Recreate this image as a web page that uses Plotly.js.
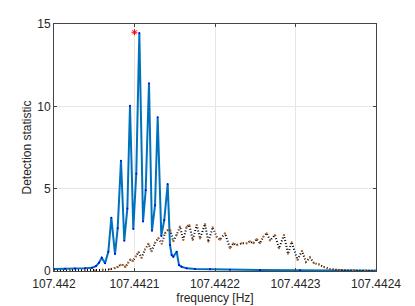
<!DOCTYPE html>
<html>
<head>
<meta charset="utf-8">
<script src="https://cdn.plot.ly/plotly-3.0.1.min.js"></script>
<style>html,body{margin:0;padding:0;background:#fff;}#chart{width:415px;height:306px;}</style>
</head>
<body>
<div id="chart"></div>
<script>
// Blue series: detection statistic
const blueFreq = [107.4420000,107.4420137,107.4420261,107.4420385,107.4420472,107.4420522,107.4420559,107.4420593,107.4420634,107.4420675,107.4420712,107.4420758,107.4420791,107.4420832,107.4420873,107.4420911,107.4420944,107.4420985,107.4421022,107.4421060,107.4421106,107.4421139,107.4421180,107.4421217,107.4421255,107.4421288,107.4421333,107.4421370,107.4421412,107.4421441,107.4421462,107.4421482,107.4421524,107.4421553,107.4421586,107.4421648,107.4421752,107.4421938,107.4422186,107.4422559,107.4423056,107.4423553,107.4424000];
const blueVal = [0.12,0.13,0.15,0.17,0.2,0.3,0.5,0.8,0.47,1.17,3.24,1.03,2.59,6.7,1.84,3.8,10.04,2.55,5.9,14.45,3.0,4.9,11.4,2.45,4.0,9.33,2.13,3.1,5.28,1.58,0.97,0.87,1.17,0.36,0.26,0.16,0.12,0.1,0.08,0.06,0.05,0.03,0.02];

// Black dotted series
const blackFreq = [107.4420000,107.4420199,107.4420385,107.4420509,107.4420609,107.4420696,107.4420758,107.4420795,107.4420826,107.4420857,107.4420888,107.4420919,107.4420950,107.4420981,107.4421019,107.4421050,107.4421087,107.4421130,107.4421174,107.4421211,107.4421255,107.4421296,107.4421338,107.4421379,107.4421416,107.4421447,107.4421482,107.4421524,107.4421565,107.4421606,107.4421648,107.4421681,107.4421723,107.4421773,107.4421814,107.4421876,107.4421917,107.4421971,107.4422021,107.4422062,107.4422124,107.4422186,107.4422227,107.4422270,107.4422332,107.4422394,107.4422435,107.4422476,107.4422518,107.4422559,107.4422600,107.4422642,107.4422683,107.4422745,107.4422795,107.4422857,107.4422907,107.4422953,107.4423025,107.4423081,107.4423130,107.4423180,107.4423230,107.4423292,107.4423354,107.4423429,107.4423553,107.4423714,107.4423863,107.4424000];
const blackVal = [0.02,0.03,0.04,0.05,0.07,0.1,0.17,0.25,0.38,0.36,0.25,0.5,0.7,0.6,0.9,1.15,0.8,1.3,1.65,1.2,1.7,2.0,1.65,2.3,2.5,2.45,1.8,2.2,2.7,1.88,2.69,2.8,1.88,2.8,1.98,2.85,1.78,2.65,2.08,1.9,2.29,1.38,1.68,1.58,1.68,1.68,1.8,1.68,1.95,1.68,2.08,2.3,1.85,2.19,1.38,2.19,1.05,1.75,0.67,1.22,0.56,0.82,0.47,0.4,0.24,0.12,0.06,0.03,0.02,0.01];

// Marker (red asterisk)
const starFreq = [107.4421];
const starVal = [14.5];

const xTickVals = [107.442,107.4421,107.4422,107.4423,107.4424];
const xTickText = ["107.442","107.4421","107.4422","107.4423","107.4424"];
const yTickVals = [0,5,10,15];

const font = {family: "Liberation Sans, Arial, Helvetica, sans-serif", size: 12, color: "#262626"};

const traces = [
  {x: blueFreq, y: blueVal, type: "scatter", mode: "lines+markers",
   line: {color: "#0072BD", width: 2}, marker: {color: "#0000ff", size: 2}, hoverinfo: "none"},
  {x: blackFreq, y: blackVal, type: "scatter", mode: "lines+markers",
   line: {color: "#000000", width: 2, dash: "1px,2px"}, marker: {color: "#c8641e", size: 2}, hoverinfo: "none"},
  {x: starFreq, y: starVal, type: "scatter", mode: "markers",
   marker: {symbol: "asterisk-open", color: "#ff0000", size: 5, line: {color: "#ff3030", width: 1}}, hoverinfo: "none"}
];

const layout = {
  width: 415, height: 306,
  margin: {l: 54, r: 39, t: 24, b: 35},
  paper_bgcolor: "#ffffff", plot_bgcolor: "#ffffff",
  showlegend: false,
  font: font,
  xaxis: {
    range: [107.442, 107.4424], tickvals: xTickVals, ticktext: xTickText,
    showgrid: true, gridcolor: "#e6e6e6", gridwidth: 1, zeroline: false,
    showline: true, linecolor: "#444444", linewidth: 1, mirror: "ticks",
    ticks: "inside", ticklen: 3, tickcolor: "#444444",
    tickfont: font, ticklabelstandoff: 2,
    title: {text: "frequency [Hz]", font: font, standoff: 1}
  },
  yaxis: {
    range: [0, 15], tickvals: yTickVals,
    showgrid: true, gridcolor: "#e6e6e6", gridwidth: 1, zeroline: false,
    showline: true, linecolor: "#444444", linewidth: 1, mirror: "ticks",
    ticks: "inside", ticklen: 3, tickcolor: "#444444",
    tickfont: font,
    title: {text: "Detection statistic", font: font, standoff: 3}
  }
};

Plotly.newPlot("chart", traces, layout, {staticPlot: true, displayModeBar: false});
</script>
</body>
</html>
